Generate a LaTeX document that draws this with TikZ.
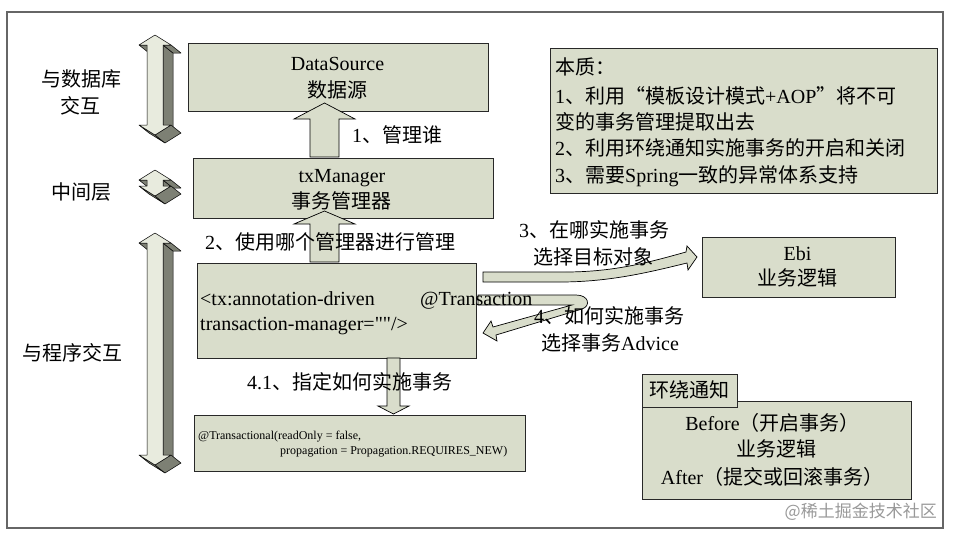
\documentclass[tikz,border=0pt]{standalone}
\usepackage{fontspec}
\setmainfont{Liberation Serif}
\newfontfamily\plainserif{Liberation Serif}
\newfontfamily\cjk{Noto Sans CJK SC}
\newcommand\zh[1]{{\cjk #1}}
\definecolor{boxfill}{RGB}{217,221,203}
\definecolor{frontf}{RGB}{232,235,222}
\definecolor{sidef}{RGB}{125,128,116}
\definecolor{lineC}{RGB}{40,40,40}
\tikzset{
 box/.style={draw=lineC, fill=boxfill, line width=0.9pt, inner sep=0pt, anchor=north west},
 txt/.style={font=\fontsize{20}{24}\selectfont, inner sep=0pt, anchor=base},
 txtl/.style={txt, anchor=base west},
 smalltxt/.style={font=\fontsize{12}{14}\selectfont, inner sep=0pt, anchor=base west},
 blockarrow/.style={draw=black, fill=boxfill, line width=0.7pt, line join=miter},
 sideface/.style={draw=black, fill=sidef, line width=0.5pt, line join=round},
 frontface/.style={draw=black, fill=frontf, line width=0.5pt, line join=round},
}
% #1=centre x, #2=top tip, #3=upper head base, #4=lower head base, #5=bottom tip
\newcommand\tdarrow[5]{%
 \filldraw[sideface] ({#1+8},#3) -- ({#1+8},#4) -- ({#1+18},{#4+8}) -- ({#1+18},{#3+8}) -- cycle;
 \filldraw[sideface] ({#1+16},#3) -- ({#1+8},#3) -- ({#1+18},{#3+8}) -- ({#1+26},{#3+8}) -- cycle;
 \filldraw[sideface] ({#1-8},#3) -- ({#1-16},#3) -- ({#1-6},{#3+8}) -- ({#1+2},{#3+8}) -- cycle;
 \filldraw[sideface] (#1,#5) -- ({#1-16},#4) -- ({#1-6},{#4+8}) -- ({#1+10},{#5+8}) -- cycle;
 \filldraw[sideface] ({#1+16},#4) -- (#1,#5) -- ({#1+10},{#5+8}) -- ({#1+26},{#4+8}) -- cycle;
 \filldraw[frontface] (#1,#2) -- ({#1+16},#3) -- ({#1+8},#3) -- ({#1+8},#4) -- ({#1+16},#4)
   -- (#1,#5) -- ({#1-16},#4) -- ({#1-8},#4) -- ({#1-8},#3) -- ({#1-16},#3) -- cycle;
}
\begin{document}
\begin{tikzpicture}[x=1pt,y=-1pt]
\useasboundingbox (0,0) rectangle (955,538);
\fill[white] (0,0) rectangle (955,538);
\draw[draw=black!60, line width=1.2pt] (7,12) rectangle (943,528);

% boxes
\node[box, minimum width=300pt, minimum height=68pt] (ds) at (188,43) {};
\node[box, minimum width=300pt, minimum height=60pt] (txm) at (193,158) {};
\node[box, minimum width=279pt, minimum height=95pt] (ann) at (197,263) {};
\node[box, minimum width=331pt, minimum height=56pt] (tra) at (194,415) {};
\node[box, minimum width=387pt, minimum height=145pt] (note) at (550,48) {};
\node[box, minimum width=193pt, minimum height=60pt] (ebi) at (702,237) {};
\node[box, minimum width=269pt, minimum height=98pt] (around) at (642,401) {};
\node[box, minimum width=95pt, minimum height=33pt] (tab) at (642,374) {};

% 3D double arrows
\tdarrow{155}{35}{45}{125}{135}
\tdarrow{155}{170}{180}{186}{196}
\tdarrow{155}{233}{243}{455}{465}

% block arrows
\filldraw[blockarrow] (310,157) -- (310,119) -- (294,119) -- (324.5,103) -- (355,119) -- (339,119) -- (339,157) -- cycle;
\filldraw[blockarrow] (310,262) -- (310,224) -- (294,224) -- (324.5,211) -- (355,224) -- (339,224) -- (339,262) -- cycle;
\filldraw[blockarrow] (387,358) -- (387,406) -- (378,406) -- (393.5,414) -- (409,406) -- (400,406) -- (400,358) -- cycle;
\filldraw[blockarrow] (483,272) -- (565,272) .. controls (615,272) and (650,262) .. (686,252)
  -- (687,246) -- (697,257) -- (688,270) -- (687,263)
  .. controls (650,272) and (610,282) .. (560,282) -- (483,282) -- cycle;
\filldraw[blockarrow] (478,295) -- (576,295) .. controls (589,295) and (591,306) .. (582,309)
  -- (496,335) -- (497,341) -- (483,333) -- (491,321) -- (493,327) -- (572,305) -- (478,305) -- cycle;

% texts
\node[txt] (l1) at (81,86) {\zh{与数据库}};
\node[txt] (l2) at (80,113) {\zh{交互}};
\node[txt] (l3) at (81,199) {\zh{中间层}};
\node[txt] (l4) at (72.5,360) {\zh{与程序交互}};

\node[txt] (ds1) at (337.5,70) {DataSource};
\node[txt] (ds2) at (337.5,97) {\zh{数据源}};
\node[txt] (tx1) at (342,182) {txManager};
\node[txt] (tx2) at (341.5,208) {\zh{事务管理器}};
\node[txtl] (a1) at (352,142) {1\zh{、管理谁}};
\node[txtl] (a2) at (205,249) {2\zh{、使用哪个管理器进行管理}};

\node[txtl] (an1) at (200,305) {<tx:annotation-driven};
\node[txtl] (an2) at (200,330) {\plainserif transaction-manager=""/>};
\node[txtl] (an3) at (420,305) {@Transaction};

\node[txtl] (a41) at (247,389) {4.1\zh{、指定如何实施事务}};
\node[smalltxt] (tr1) at (198,439) {@Transactional(readOnly = false,};
\node[smalltxt] (tr2) at (280,454) {propagation = Propagation.REQUIRES\_NEW)};

\node[txtl] (no0) at (555,74) {\zh{本质：}};
\node[txtl] (no1) at (555,103) {1\zh{、利用“模板设计模式}+AOP\zh{”将不可}};
\node[txtl] (no2) at (555,129) {\zh{变的事务管理提取出去}};
\node[txtl] (no3) at (555,155) {2\zh{、利用环绕通知实施事务的开启和关闭}};
\node[txtl] (no4) at (555,182) {3\zh{、需要}Spring\zh{一致的异常体系支持}};

\node[txt] (a3a) at (594,237) {3\zh{、在哪实施事务}};
\node[txt] (a3b) at (593.5,264) {\zh{选择目标对象}};
\node[txt] (eb1) at (797.5,260) {Ebi};
\node[txt] (eb2) at (797.5,285) {\zh{业务逻辑}};
\node[txt] (a4a) at (609,323) {4\zh{、如何实施事务}};
\node[txt] (a4b) at (610,350) {\zh{选择事务}Advice};

\node[txt] (tb) at (689,397) {\zh{环绕通知}};
\node[txt] (ar1) at (772.5,430) {Before\zh{（开启事务）}};
\node[txt] (ar2) at (776,456) {\zh{业务逻辑}};
\node[txt] (ar3) at (772,484) {After\zh{（提交或回滚事务）}};

\node[font=\fontsize{17}{20}\selectfont\cjk, text=black!40, inner sep=0pt, anchor=base east] (wm) at (937,517) {@稀土掘金技术社区};
\end{tikzpicture}
\end{document}
